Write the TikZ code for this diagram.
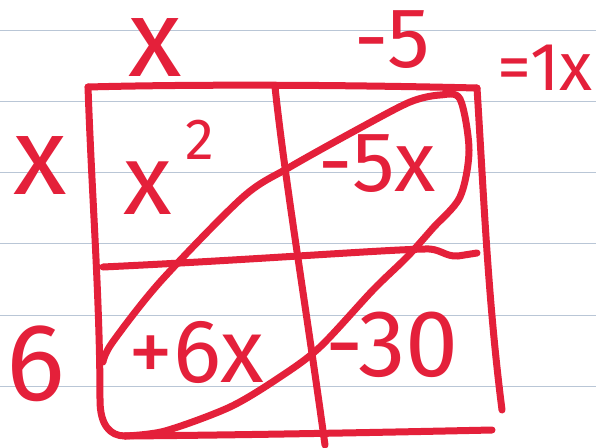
\documentclass[tikz,border=0pt]{standalone}
\usepackage{fontspec}
\setmainfont{Fira Sans}
\definecolor{ink}{RGB}{228,32,58}
\definecolor{rulecol}{RGB}{185,198,214}
\begin{document}
\begin{tikzpicture}[x=1pt,y=-1pt, line cap=round, line join=round,
  pen/.style={draw=ink, line width=7pt},
  paper/.style={draw=rulecol, line width=1pt},
  lab/.style={text=ink, inner sep=0pt}]
\useasboundingbox (0,0) rectangle (596,447);
\fill[white] (0,0) rectangle (596,447);
\foreach \y in {30,101,172,243,315,386} \draw[paper] (0,\y) -- (596,\y);
% grid corners
\coordinate (tl) at (88,87);
\coordinate (tm) at (275,87);
\coordinate (tr) at (477,88);
\coordinate (ml) at (103,267);
\coordinate (mr) at (477,253);
\coordinate (bl) at (125,436);
\coordinate (bm) at (325,445);
\coordinate (br) at (492,430);
\coordinate (rb) at (502,410);
% grid
\draw[pen] (tl) .. controls (200,84) and (350,85) .. (tr);
\draw[pen] (tl) .. controls (92,200) and (100,300) .. (100,400) .. controls (100,425) and (110,436) .. (bl);
\draw[pen] (bl) .. controls (250,435) and (400,432) .. (br);
\draw[pen] (tm) .. controls (285,180) and (305,300) .. (bm);
\draw[pen] (tr) .. controls (484,200) and (488,300) .. (rb);
\draw[pen] (ml) .. controls (250,260) and (380,250) .. (425,249) .. controls (440,248) and (445,257) .. (458,256) -- (mr);
% loop
\draw[pen] plot[smooth, tension=0.5] coordinates {(103,362) (112,343) (160,282) (243,197) (290,167) (360,128) (410,102) (440,95) (460,99) (469,150) (460,197) (433,228) (407,257) (373,290) (320,347) (280,377) (230,407) (165,431) (125,436)};
% labels
\node[lab, font=\fontsize{110}{110}\selectfont] (lx) at (155,48) {x};
\node[lab, font=\fontsize{85}{85}\selectfont] (lm5) at (392,40) {-5};
\node[lab, font=\fontsize{68}{68}\selectfont, anchor=east] (eq) at (593,68) {=1x};
\node[lab, font=\fontsize{110}{110}\selectfont] (sx) at (40,166) {x};
\node[lab, font=\fontsize{110}{110}\selectfont] (s6) at (36,364) {6};
\node[lab, font=\fontsize{100}{100}\selectfont] (c1) at (148,188) {x};
\node[lab, font=\fontsize{58}{58}\selectfont] (c1s) at (200,140) {2};
\node[lab, font=\fontsize{85}{85}\selectfont] (c2) at (377,164) {-5x};
\node[lab, font=\fontsize{90}{90}\selectfont] (c3) at (196,352) {+6x};
\node[lab, font=\fontsize{95}{95}\selectfont] (c4) at (392,345) {-30};
\end{tikzpicture}
\end{document}
